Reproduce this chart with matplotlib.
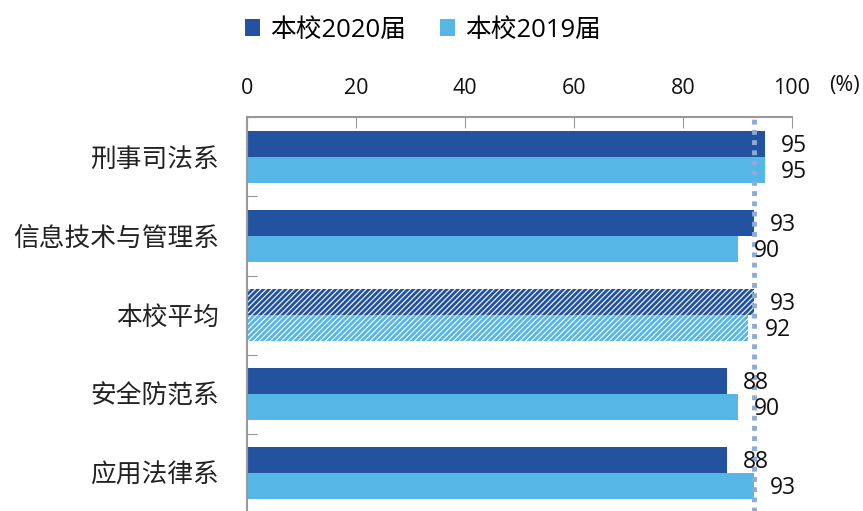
import numpy as np
import matplotlib.pyplot as plt
from matplotlib.patches import Patch

plt.rcParams['font.family'] = ['Open Sans', 'Noto Sans CJK SC', 'DejaVu Sans']
plt.rcParams['hatch.linewidth'] = 0.8

# 데이터
categories = ['刑事司法系', '信息技术与管理系', '本校平均', '安全防范系', '应用法律系']
v2020 = [95, 93, 93, 88, 88]
v2019 = [95, 90, 92, 90, 93]
series_names = ['本校2020届', '本校2019届']
xticks = [0, 20, 40, 60, 80, 100]
avg_idx = 2

c_dark = '#2352A1'
c_light = '#56B6E6'

fig = plt.figure(figsize=(8.63, 5.11), dpi=100)
ax = fig.add_axes([247 / 863, -1.5 / 511, 545 / 863, 395 / 511])

y = np.arange(len(categories))
h = 0.33
bars20 = ax.barh(y - h / 2, v2020, height=h, color=c_dark, linewidth=0)
bars19 = ax.barh(y + h / 2, v2019, height=h, color=c_light, linewidth=0)

# 평균 막대는 빗금
for b in (bars20[avg_idx], bars19[avg_idx]):
    b.set_hatch('//////')
    b.set_edgecolor('white')
    b.set_linewidth(0)

# 평균선 (점선)
ax.axvline(v2020[avg_idx], color='#8EABD4', lw=3.5, ls=(0, (1, 1.1)), zorder=3)

# 값 라벨
for i in range(len(categories)):
    ax.text(v2020[i] + 3.0, y[i] - h / 2 + 0.03, str(v2020[i]), va='center', ha='left',
            fontsize=16.5, color='#111111')
    ax.text(v2019[i] + 3.0, y[i] + h / 2 + 0.03, str(v2019[i]), va='center', ha='left',
            fontsize=16.5, color='#111111')

ax.set_xlim(0, 100)
ax.set_ylim(4.5, -0.5)
ax.xaxis.tick_top()
ax.set_xticks(xticks)
ax.set_xticklabels([str(t) for t in xticks], fontsize=15.5, color='#111111')
ax.tick_params(axis='x', direction='in', length=8, color='#999999', pad=13)

ax.set_yticks(np.arange(len(categories) + 1) - 0.5, minor=False)
ax.set_yticklabels([])
ax.set_yticks(y, minor=True)
ax.set_yticklabels(categories, minor=True, fontsize=18.5, color='#222222')
ax.tick_params(axis='y', which='major', direction='in', length=7, color='#999999')
ax.tick_params(axis='y', which='minor', length=0, pad=20)

for s in ('right', 'bottom'):
    ax.spines[s].set_visible(False)
for s in ('top', 'left'):
    ax.spines[s].set_color('#999999')
    ax.spines[s].set_linewidth(1.5)

fig.text(844 / 863, 1 - 86 / 511, '(%)', ha='center', va='center', fontsize=15.5, color='#111111')

handles = [Patch(facecolor=c_dark), Patch(facecolor=c_light)]
fig.legend(handles, series_names, loc='center', bbox_to_anchor=(423 / 863, 1 - 30 / 511),
           ncol=2, frameon=False, fontsize=18.5, handlelength=0.6, handleheight=0.6,
           handletextpad=0.4, columnspacing=1.3)

fig.savefig('out.png', dpi=100)
